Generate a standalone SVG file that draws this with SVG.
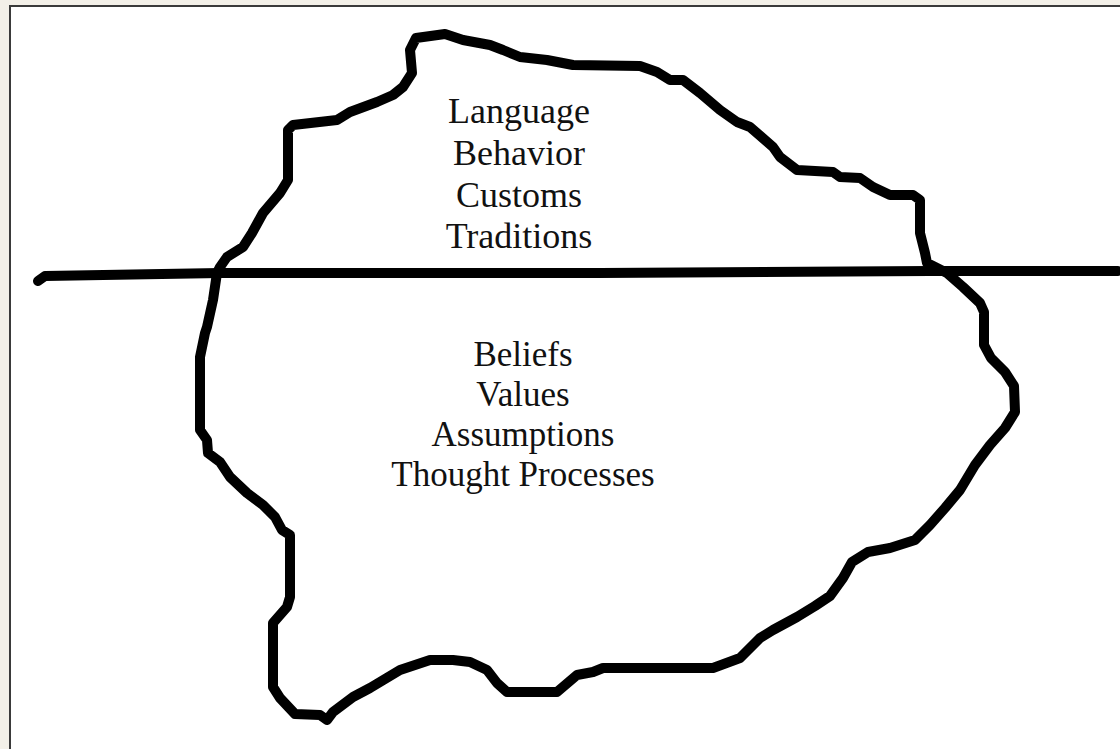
<svg xmlns="http://www.w3.org/2000/svg" width="1120" height="749" viewBox="0 0 1120 749">
<style>
.ink{fill:none;stroke:#000;stroke-width:10;stroke-linejoin:round;stroke-linecap:round}
.t{font-family:"Liberation Serif","Times New Roman",serif;fill:#111;text-anchor:middle}
</style>
<rect x="0" y="0" width="1120" height="749" fill="#f3f0e8"/>
<rect id="panel" x="10" y="6" width="1120" height="750" fill="#fff" stroke="#3a3a3a" stroke-width="2"/>
<g id="iceberg">
<path class="ink" d="M416,38 L445,34 L463,40 L490,45 L503,50 L520,57 L547,60 L573,65 L640,66 L657,72 L670,80 L683,80 L700,93 L720,110 L737,122 L750,127 L773,147 L780,157 L797,170 L833,172 L840,177 L860,178 L873,187 L890,195 L913,195 L920,200 L920,233 L925,253 L927,263 L933,266 L947,273 L963,287 L980,303 L984,312 L984,345 L991,358 L1005,372 L1014,386 L1015,412 L1005,428 L990,445 L975,465 L960,490 L945,508 L930,525 L915,540 L890,548 L868,552 L852,562 L843,578 L830,596 L815,606 L797,617 L773,630 L760,638 L740,658 L713,668 L603,668 L593,672 L577,675 L557,692 L507,692 L497,683 L487,670 L470,662 L453,660 L430,660 L400,670 L370,688 L353,697 L333,712 L327,720 L320,715 L295,714 L280,698 L273,687 L273,623 L287,607 L290,597 L290,535 L282,530 L275,517 L263,505 L247,493 L230,477 L220,462 L208,453 L207,440 L200,430 L200,357 L205,333 L207,327 L213,300 L217,273 L220,267 L227,257 L243,247 L252,233 L263,213 L280,193 L288,180 L288,130 L293,125 L337,120 L350,112 L377,102 L393,95 L403,87 L412,73 L410,50 Z"/>
</g>
<g id="waterline">
<path class="ink" d="M38,281 L45,276 L220,273 L600,273 L930,271 L1118,271"/>
</g>
<g id="visible-layer">
<text class="t" x="519" y="123" font-size="36">Language</text>
<text class="t" x="519" y="165" font-size="36">Behavior</text>
<text class="t" x="519" y="207" font-size="36">Customs</text>
<text class="t" x="519" y="248" font-size="36">Traditions</text>
</g>
<g id="hidden-layer">
<text class="t" x="523" y="366" font-size="35">Beliefs</text>
<text class="t" x="523" y="406" font-size="35">Values</text>
<text class="t" x="523" y="446" font-size="35">Assumptions</text>
<text class="t" x="523" y="486" font-size="35">Thought Processes</text>
</g>
</svg>
